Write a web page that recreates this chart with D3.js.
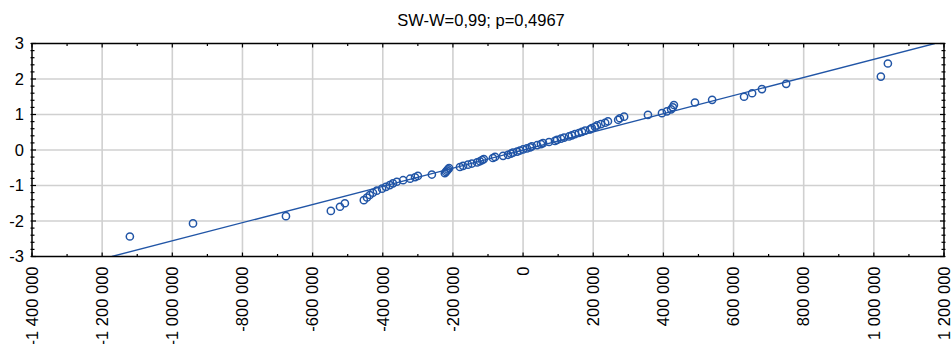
<!DOCTYPE html>
<html>
<head>
<meta charset="utf-8">
<script src="https://cdn.jsdelivr.net/npm/d3@7"></script>
<style>
  html, body { margin: 0; padding: 0; background: #ffffff; }
  svg { display: block; }
  text { font-family: "Liberation Sans", Arial, sans-serif; fill: #000; }
</style>
</head>
<body>
<svg id="chart" width="951" height="344"></svg>
<script>
// ---------------- data ----------------
const titleText = "SW-W=0,99; p=0,4967";

// observed values (x) and expected normal values (z), sorted
const xValues = [
  -1121000, -941000, -676000, -548000, -522000, -508000,
  -454000, -445000, -437000, -428000, -417000, -402000,
  -391000, -380000, -371000, -360000, -342000, -322000,
  -308000, -300000, -260000, -223000, -220000, -217000,
  -214000, -211000, -180000, -171000, -157000, -146000,
  -131000, -123000, -117000, -112000, -86000, -80000,
  -57000, -43000, -35000, -29000, -17000, -9000,
  0, 11000, 20000, 25000, 40000, 51000,
  57000, 74000, 91000, 97000, 108000, 117000,
  131000, 139000, 148000, 159000, 168000, 177000,
  191000, 196000, 205000, 211000, 222000, 234000,
  242000, 271000, 276000, 288000, 356000, 396000,
  410000, 422000, 427000, 430000, 490000, 539000,
  630000, 653000, 681000, 750000, 1020000, 1040000
];
const zValues = [
  -2.436, -2.069, -1.864, -1.716, -1.599, -1.500,
  -1.414, -1.338, -1.268, -1.204, -1.145, -1.090,
  -1.037, -0.988, -0.940, -0.895, -0.851, -0.809,
  -0.768, -0.729, -0.691, -0.654, -0.617, -0.582,
  -0.547, -0.512, -0.479, -0.446, -0.413, -0.381,
  -0.349, -0.318, -0.287, -0.256, -0.225, -0.195,
  -0.165, -0.135, -0.104, -0.074, -0.045, -0.015,
  0.015, 0.045, 0.074, 0.104, 0.135, 0.165,
  0.195, 0.225, 0.256, 0.287, 0.318, 0.349,
  0.381, 0.413, 0.446, 0.479, 0.512, 0.547,
  0.582, 0.617, 0.654, 0.691, 0.729, 0.768,
  0.809, 0.851, 0.895, 0.940, 0.988, 1.037,
  1.090, 1.145, 1.204, 1.268, 1.338, 1.414,
  1.500, 1.599, 1.716, 1.864, 2.069, 2.436
];

// fitted normal line endpoints
const lineX = [-1172300, 1173700];
const lineZ = [-3, 3];

// axis ticks
const xTickValues = [-1400000, -1200000, -1000000, -800000, -600000, -400000, -200000, 0, 200000, 400000, 600000, 800000, 1000000, 1200000];
const yTickValues = [-3, -2, -1, 0, 1, 2, 3];

// ---------------- chart ----------------
const W = 951, H = 344;
const margin = { left: 32, right: 7, top: 43.5, bottom: 87.5 };
const x0 = margin.left, x1 = W - margin.right;
const y0 = margin.top, y1 = H - margin.bottom;

const svg = d3.select("#chart");
const x = d3.scaleLinear().domain([-1400000, 1200000]).range([x0, x1]);
const y = d3.scaleLinear().domain([-3, 3]).range([y1, y0]);

const locale = d3.formatLocale({ decimal: ",", thousands: " ", grouping: [3], currency: ["", ""], minus: "-" });
const fmt = locale.format(",.0f");

const blue = "#2155a6";
const gridColor = "#d0d0d0";

// grid
const grid = svg.append("g");
grid.selectAll("line.gx").data(xTickValues.slice(1, -1)).join("line")
  .attr("x1", d => x(d)).attr("x2", d => x(d))
  .attr("y1", y0).attr("y2", y1)
  .attr("stroke", gridColor).attr("stroke-width", 1.6);
grid.selectAll("line.gy").data(yTickValues.slice(1, -1)).join("line")
  .attr("x1", x0).attr("x2", x1)
  .attr("y1", d => y(d)).attr("y2", d => y(d))
  .attr("stroke", gridColor).attr("stroke-width", 1.6);

// minor ticks
const xMinor = d3.range(-1400000, 1200001, 100000);
const yMinor = d3.range(-30, 31, 2).map(v => v / 10);

const ticks = svg.append("g").attr("stroke", "#000").attr("stroke-width", 1.2);
const isMajorX = d => Math.abs(d % 200000) < 1;
const isMajorY = d => Math.abs(d - Math.round(d)) < 1e-6;

ticks.selectAll("line.bx").data(xMinor).join("line")
  .attr("x1", d => x(d)).attr("x2", d => x(d))
  .attr("y1", y1).attr("y2", d => y1 - (isMajorX(d) ? 4 : 2.5));
ticks.selectAll("line.tx").data(xMinor).join("line")
  .attr("x1", d => x(d)).attr("x2", d => x(d))
  .attr("y1", y0).attr("y2", d => y0 + (isMajorX(d) ? 4 : 2.5));
ticks.selectAll("line.ly").data(yMinor).join("line")
  .attr("x1", x0 - 1.5).attr("x2", d => x0 + (isMajorY(d) ? 4 : 2.5))
  .attr("y1", d => y(d)).attr("y2", d => y(d));
ticks.selectAll("line.ry").data(yMinor).join("line")
  .attr("x1", x1 + 1.5).attr("x2", d => x1 - (isMajorY(d) ? 4 : 2.5))
  .attr("y1", d => y(d)).attr("y2", d => y(d));

// fitted line (clipped to the plot)
svg.append("clipPath").attr("id", "plotClip")
  .append("rect").attr("x", x0).attr("y", y0).attr("width", x1 - x0).attr("height", y1 - y0);
const lineGen = d3.line().x(d => x(d[0])).y(d => y(d[1]));
svg.append("path")
  .datum(lineX.map((v, i) => [v, lineZ[i]]))
  .attr("d", lineGen)
  .attr("fill", "none").attr("stroke", blue).attr("stroke-width", 1.3)
  .attr("clip-path", "url(#plotClip)");

// points
svg.append("g").selectAll("circle").data(xValues.map((v, i) => [v, zValues[i]])).join("circle")
  .attr("cx", d => x(d[0])).attr("cy", d => y(d[1])).attr("r", 3.6)
  .attr("fill", "none").attr("stroke", blue).attr("stroke-width", 1.5);

// frame
svg.append("rect").attr("x", x0).attr("y", y0).attr("width", x1 - x0).attr("height", y1 - y0)
  .attr("fill", "none").attr("stroke", "#000").attr("stroke-width", 1.5);

// y labels
svg.append("g").selectAll("text").data(yTickValues).join("text")
  .attr("x", x0 - 8).attr("y", d => y(d)).attr("dy", "0.36em")
  .attr("text-anchor", "end").attr("font-size", 16.5)
  .text(d => fmt(d));

// x labels (rotated)
svg.append("g").selectAll("text").data(xTickValues).join("text")
  .attr("transform", d => `translate(${x(d)},${y1 + 10}) rotate(-90)`)
  .attr("dy", "0.35em")
  .attr("text-anchor", "end").attr("font-size", 16.5)
  .text(d => fmt(d));

// title
svg.append("text").attr("x", 481).attr("y", 26)
  .attr("text-anchor", "middle").attr("font-size", 16.5)
  .text(titleText);
</script>
</body>
</html>
